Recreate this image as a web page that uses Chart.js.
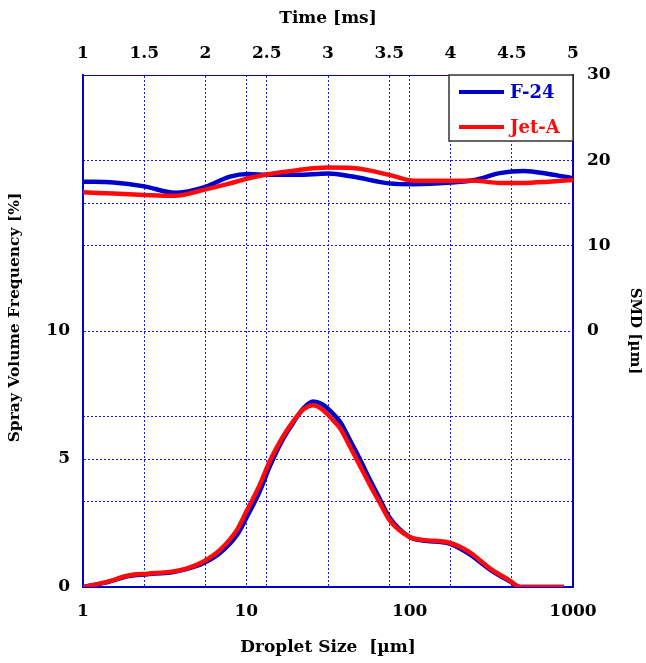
<!DOCTYPE html>
<html>
<head>
<meta charset="utf-8">
<script src="https://cdn.jsdelivr.net/npm/chart.js@4.4.1/dist/chart.umd.min.js"></script>
<style>
    html, body { margin: 0; padding: 0; background: #fff; }
    #wrap { width: 646px; height: 663px; }
</style>
</head>
<body>
<div id="wrap"><canvas id="chart"></canvas></div>
<script>
// droplet size distribution (bottom + left axes)
const dropletSizes = [1, 1.4, 1.9, 2.5, 3.5, 4.3, 5.4, 6.9, 8.8, 10, 12, 14, 16.5, 19.5, 22.5, 25.6, 29, 33, 37.5, 43, 49.5, 57, 65.5, 75.5, 100, 120, 175, 230, 310, 410, 475, 880];
const f24Volume = [0, 0.18, 0.43, 0.5, 0.58, 0.7, 0.92, 1.33, 2.05, 2.7, 3.7, 4.75, 5.7, 6.45, 7.0, 7.25, 7.15, 6.85, 6.45, 5.75, 5.0, 4.2, 3.45, 2.7, 1.95, 1.82, 1.7, 1.3, 0.68, 0.22, 0, 0];
const jetAVolume = [0, 0.2, 0.45, 0.52, 0.6, 0.72, 0.98, 1.45, 2.25, 2.95, 3.95, 4.95, 5.8, 6.5, 6.95, 7.1, 6.95, 6.6, 6.2, 5.5, 4.75, 4.0, 3.3, 2.6, 1.95, 1.84, 1.73, 1.38, 0.73, 0.25, 0, 0];

// SMD vs time (top + right axes)
const timeMs = [1, 1.25, 1.5, 1.75, 2, 2.2, 2.35, 2.5, 2.75, 3, 3.2, 3.5, 3.7, 4, 4.2, 4.4, 4.6, 4.8, 5];
const f24Smd = [17.5, 17.4, 16.95, 16.2, 16.9, 18.1, 18.4, 18.3, 18.3, 18.45, 18.1, 17.3, 17.2, 17.4, 17.7, 18.5, 18.75, 18.4, 17.9];
const jetASmd = [16.25, 16.1, 15.95, 15.85, 16.6, 17.3, 17.9, 18.35, 18.85, 19.15, 19.1, 18.3, 17.6, 17.6, 17.6, 17.35, 17.35, 17.5, 17.7];

const sizeTicks = [1, 10, 100, 1000];
const seriesNames = ['F-24', 'Jet-A'];

const FONT = "'DejaVu Serif', 'Liberation Serif', serif";
const BLUE = '#0000cc';
const RED = '#ff0a0a';
const GRID = '#1a1ae8';
const NONE = 'rgba(0,0,0,0)';
const seriesColors = [BLUE, RED];

function pairs(xs, ys) {
    return xs.map((x, i) => ({ x: x, y: ys[i] }));
}

function tickFont(size) {
    return { family: FONT, size: size, weight: 'bold' };
}

// legend box drawn inside the top-right corner of the plot
const insideLegend = {
    id: 'insideLegend',
    afterDraw(chart) {
        const ctx = chart.ctx;
        const area = chart.chartArea;
        const w = 124, h = 66;
        const x0 = area.right - w, y0 = area.top;
        ctx.save();
        ctx.fillStyle = '#fff';
        ctx.fillRect(x0, y0, w, h);
        ctx.strokeStyle = '#333';
        ctx.lineWidth = 1.5;
        ctx.strokeRect(x0, y0, w, h);
        ctx.font = 'bold 18px ' + FONT;
        ctx.textBaseline = 'middle';
        seriesNames.forEach((name, i) => {
            const y = y0 + 17 + i * 35;
            ctx.strokeStyle = seriesColors[i];
            ctx.lineWidth = 4;
            ctx.beginPath();
            ctx.moveTo(x0 + 10, y);
            ctx.lineTo(x0 + 55, y);
            ctx.stroke();
            ctx.fillStyle = seriesColors[i];
            ctx.fillText(name, x0 + 61, y + 1);
        });
        ctx.restore();
    }
};

const lineStyle = {
    borderWidth: 4.5,
    pointRadius: 0,
    fill: false,
    cubicInterpolationMode: 'monotone'
};

new Chart(document.getElementById('chart'), {
    type: 'line',
    data: {
        datasets: [
            Object.assign({ label: 'F-24', data: pairs(dropletSizes, f24Volume), xAxisID: 'x', yAxisID: 'y', borderColor: BLUE, order: 2 }, lineStyle),
            Object.assign({ label: 'Jet-A', data: pairs(dropletSizes, jetAVolume), xAxisID: 'x', yAxisID: 'y', borderColor: RED, order: 1 }, lineStyle),
            Object.assign({ label: 'F-24 SMD', data: pairs(timeMs, f24Smd), xAxisID: 'x2', yAxisID: 'y2', borderColor: BLUE, order: 2 }, lineStyle),
            Object.assign({ label: 'Jet-A SMD', data: pairs(timeMs, jetASmd), xAxisID: 'x2', yAxisID: 'y2', borderColor: RED, order: 1 }, lineStyle)
        ]
    },
    options: {
        responsive: true,
        maintainAspectRatio: false,
        animation: false,
        layout: { padding: 0 },
        plugins: {
            legend: { display: false },
            tooltip: { enabled: false }
        },
        scales: {
            x: {
                type: 'logarithmic',
                position: 'bottom',
                min: 1,
                max: 1000,
                afterBuildTicks: (s) => { s.ticks = sizeTicks.map(v => ({ value: v })); },
                afterFit: (s) => { s.height = 76; },
                ticks: { font: tickFont(17), color: '#000', padding: 14, maxRotation: 0, autoSkip: false, callback: (v) => String(v) },
                grid: { drawTicks: false, lineWidth: 1, color: (c) => (c.tick && (c.tick.value === 10 || c.tick.value === 100)) ? GRID : NONE },
                border: { color: BLUE, width: 2, dash: [2, 2] },
                title: { display: true, text: 'Droplet Size  [µm]', font: tickFont(17), color: '#000', padding: { top: 0, bottom: 5 } }
            },
            x2: {
                type: 'linear',
                position: 'top',
                min: 1,
                max: 5,
                afterFit: (s) => { s.height = 75; },
                ticks: { stepSize: 0.5, font: tickFont(17), color: '#000', padding: 11, maxRotation: 0, autoSkip: false, callback: (v) => String(v) },
                grid: { drawTicks: false, lineWidth: 1, color: (c) => (c.tick && c.tick.value > 1 && c.tick.value < 5) ? GRID : NONE },
                border: { color: BLUE, width: 1, dash: [2, 2] },
                title: { display: true, text: 'Time [ms]', font: tickFont(17), color: '#000', padding: { top: 8, bottom: 0 } }
            },
            y: {
                type: 'linear',
                position: 'left',
                min: 0,
                max: 20,
                afterFit: (s) => { s.width = 83; },
                ticks: { stepSize: 5, font: tickFont(17), color: '#000', padding: 13, callback: (v) => v <= 10 ? String(v) : '' },
                grid: { drawTicks: false, lineWidth: 1, color: (c) => (c.tick && c.tick.value > 0 && c.tick.value < 20) ? GRID : NONE },
                border: { color: BLUE, width: 2, dash: [2, 2] },
                // leading spaces nudge the rotated title up a little, like the original
                title: { display: true, text: '     Spray Volume Frequency [%]', font: tickFont(15.5), color: '#000', padding: { top: 6, bottom: 0 } }
            },
            y2: {
                type: 'linear',
                position: 'right',
                min: -30,
                max: 30,
                afterFit: (s) => { s.width = 73; },
                ticks: { stepSize: 10, font: tickFont(17), color: '#000', padding: 14, callback: (v) => v >= 0 ? String(v) : '' },
                // the 0 line sits on the left axis' 10 line, so skip it here
                grid: { drawTicks: false, lineWidth: 1, color: (c) => (c.tick && c.tick.value > -30 && c.tick.value < 30 && c.tick.value !== 0) ? GRID : NONE },
                border: { color: BLUE, width: 2, dash: [2, 2] },
                title: { display: true, text: 'SMD [µm]', font: tickFont(15), color: '#000', padding: { top: 2, bottom: 0 } }
            }
        }
    },
    plugins: [insideLegend]
});
</script>
</body>
</html>
